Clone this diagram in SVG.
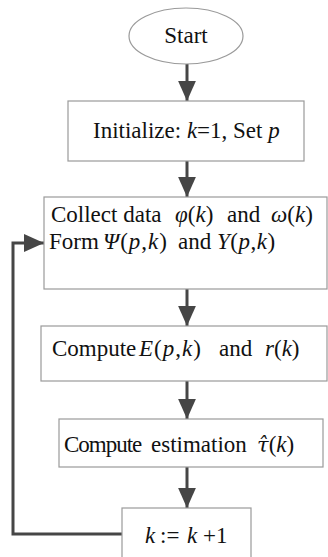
<svg xmlns="http://www.w3.org/2000/svg" width="328" height="557" viewBox="0 0 328 557">
  <style>
    .node { fill: #ffffff; stroke: #9a9a9a; stroke-width: 1.2; }
    .lbl { font-family: "Liberation Serif", "Times New Roman", serif; font-size: 23px; fill: #111111; }
    .m { font-style: italic; }
    .acc { font-family: "DejaVu Serif", serif; font-size: 21px; font-style: italic; }
    .wire { fill: none; stroke: #464646; stroke-width: 3; }
  </style>
  <defs>
    <marker id="head" markerUnits="userSpaceOnUse" markerWidth="20" markerHeight="20" viewBox="0 0 18 16" refX="18" refY="8" orient="auto">
      <path d="M0,0 L18,8 L0,16 Z" fill="#464646"/>
    </marker>
  </defs>
  <rect width="328" height="557" fill="#ffffff"/>

  <g id="connectors">
    <path class="wire" d="M187,64 V101" marker-end="url(#head)"/>
    <path class="wire" d="M187,161 V197" marker-end="url(#head)"/>
    <path class="wire" d="M187,289 V326" marker-end="url(#head)"/>
    <path class="wire" d="M187,381 V419" marker-end="url(#head)"/>
    <path class="wire" d="M187,467 V508" marker-end="url(#head)"/>
    <path class="wire" d="M122,534 H13 V243 H44" marker-end="url(#head)"/>
  </g>

  <g id="start">
    <ellipse class="node" cx="186" cy="36" rx="57" ry="28"/>
    <text class="lbl" x="186" y="43" text-anchor="middle">Start</text>
  </g>

  <g id="init">
    <rect class="node" x="68" y="101" width="236" height="60"/>
    <text class="lbl" x="93" y="138">Initialize: <tspan class="m">k</tspan>=1, Set <tspan class="m">p</tspan></text>
  </g>

  <g id="collect">
    <rect class="node" x="44" y="197" width="283" height="92"/>
    <text class="lbl" y="222"><tspan x="51">Collect data</tspan><tspan x="175" class="m">φ</tspan>(<tspan class="m">k</tspan>)<tspan x="227">and</tspan><tspan x="271" class="m">ω</tspan>(<tspan class="m">k</tspan>)</text>
    <text class="lbl" y="249"><tspan x="49">Form</tspan><tspan x="103" letter-spacing="1"><tspan class="m">Ψ</tspan>(<tspan class="m">p</tspan>,<tspan class="m">k</tspan>)</tspan><tspan x="178">and</tspan><tspan x="217" letter-spacing="0.5"><tspan class="m">Y</tspan>(<tspan class="m">p</tspan>,<tspan class="m">k</tspan>)</tspan></text>
  </g>

  <g id="compute-e">
    <rect class="node" x="41" y="326" width="286" height="55"/>
    <text class="lbl" y="356"><tspan x="52">Compute</tspan><tspan x="139" letter-spacing="1"><tspan class="m">E</tspan>(<tspan class="m">p</tspan>,<tspan class="m">k</tspan>)</tspan><tspan x="219">and</tspan><tspan x="265"><tspan class="m">r</tspan>(<tspan class="m">k</tspan>)</tspan></text>
  </g>

  <g id="estimate">
    <rect class="node" x="59" y="419" width="264" height="48"/>
    <text class="lbl" y="452"><tspan x="64" letter-spacing="-1">Compute</tspan><tspan x="151">estimation</tspan><tspan x="257" class="acc">τ̂</tspan>(<tspan class="m">k</tspan>)</text>
  </g>

  <g id="increment">
    <rect class="node" x="122" y="508" width="129" height="60"/>
    <text class="lbl" y="543"><tspan x="145" class="m">k</tspan><tspan x="160">:=</tspan><tspan x="187" class="m">k</tspan><tspan x="203">+1</tspan></text>
  </g>
</svg>
